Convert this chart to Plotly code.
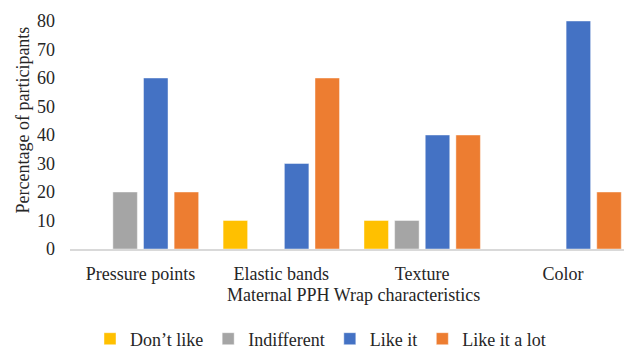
import plotly.graph_objects as go

# Survey results: share of participants per rating, by wrap characteristic
categories = ["Pressure points", "Elastic bands", "Texture", "Color"]
dont_like = [0, 10, 10, 0]
indifferent = [20, 0, 10, 0]
like_it = [60, 30, 40, 80]
like_it_a_lot = [20, 60, 40, 20]

series = [
    ("Don\u2019t like", dont_like, "#FFC000"),
    ("Indifferent", indifferent, "#A5A5A5"),
    ("Like it", like_it, "#4472C4"),
    ("Like it a lot", like_it_a_lot, "#ED7D31"),
]

W, H = 624, 352
ML, MR, MT, MB = 69.5, 0, 21, 103
plot_w = W - ML - MR
plot_h = H - MT - MB

FONT = "Liberation Serif, Times New Roman, serif"
TXT = "#262626"
FS = 18

fig = go.Figure()
for name, vals, color in series:
    fig.add_trace(go.Bar(
        x=categories, y=vals, name=name,
        marker=dict(color=color, line=dict(color="rgba(255,255,255,0.55)", width=0.8)),
    ))


def px_x(px):
    return (px - ML) / plot_w


def px_y(py):
    return (H - MB - py) / plot_h


fig.update_layout(
    width=W, height=H,
    margin=dict(l=ML, r=MR, t=MT, b=MB, pad=0, autoexpand=False),
    paper_bgcolor="white", plot_bgcolor="white",
    font=dict(family=FONT, size=FS, color=TXT),
    barmode="group", bargap=0.13, bargroupgap=0.2,
    showlegend=True,
    legend=dict(
        orientation="h", xanchor="left", yanchor="middle",
        xref="container", yref="container",
        x=90 / W, y=(H - 339) / H,
        font=dict(family=FONT, size=FS, color=TXT),
        traceorder="normal", itemclick=False, itemdoubleclick=False,
    ),
    xaxis=dict(
        range=[-0.5, 3.5 - 9.5 / 141], showgrid=False, zeroline=False,
        showline=True, linecolor="#D9D9D9", linewidth=1.5, automargin=False,
        ticks="", ticklabelstandoff=8, tickfont=dict(size=FS),
    ),
    yaxis=dict(
        range=[0, 80], dtick=10, showgrid=False, zeroline=False,
        showline=False, ticks="", ticklabelstandoff=14, automargin=False,
        tickfont=dict(size=FS),
    ),
    annotations=[
        dict(text="Percentage of participants", textangle=-90,
             xref="paper", yref="paper", x=px_x(22), y=px_y(120),
             xanchor="center", yanchor="middle", showarrow=False,
             font=dict(size=FS)),
        dict(text="Maternal PPH Wrap characteristics",
             xref="paper", yref="paper", x=px_x(353), y=px_y(295),
             xanchor="center", yanchor="middle", showarrow=False,
             font=dict(size=FS)),
    ],
)

fig.write_html("out.html")
